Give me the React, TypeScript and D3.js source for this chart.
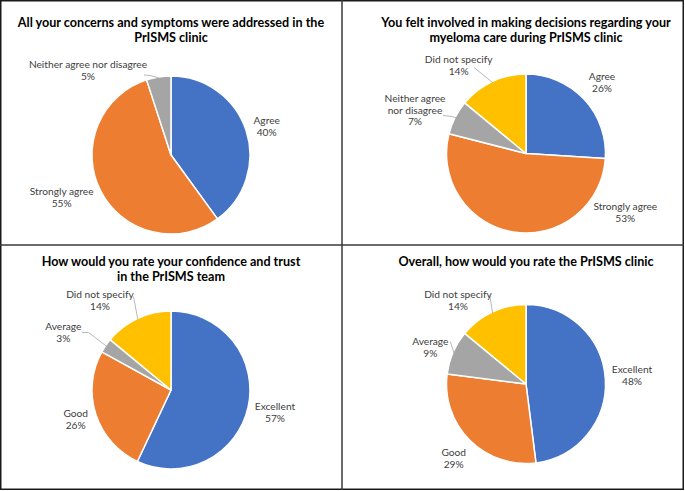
import React from "react";
import * as d3 from "d3";

// ---- Data ----
const titles1 = ["All your concerns and symptoms were addressed in the", "PrISMS clinic"];
const cats1 = ["Agree", "Strongly agree", "Neither agree nor disagree"];
const vals1 = [40, 55, 5];

const titles2 = ["You felt involved in making decisions regarding your", "myeloma care during PrISMS clinic"];
const cats2 = ["Agree", "Strongly agree", "Neither agree nor disagree", "Did not specify"];
const vals2 = [26, 53, 7, 14];

const titles3 = ["How would you rate your confidence and trust", "in the PrISMS team"];
const cats3 = ["Excellent", "Good", "Average", "Did not specify"];
const vals3 = [57, 26, 3, 14];

const titles4 = ["Overall, how would you rate the PrISMS clinic"];
const cats4 = ["Excellent", "Good", "Average", "Did not specify"];
const vals4 = [48, 29, 9, 14];

const colors = ["#4472C4", "#ED7D31", "#A5A5A5", "#FFC000"];

// ---- Layout (positions/styles) ----
type LabelLayout = { x: number; y: number; leader?: [number, number][] };
type PanelLayout = {
  titleY: number; titleX: number; cx: number; cy: number; r: number;
  labels: LabelLayout[]; splitLabel?: Record<number, string[]>;
};

const panels: { titles: string[]; cats: string[]; vals: number[]; layout: PanelLayout }[] = [
  {
    titles: titles1, cats: cats1, vals: vals1,
    layout: {
      titleX: 171, titleY: 26.7, cx: 171, cy: 155, r: 79,
      labels: [
        { x: 266.7, y: 124 },
        { x: 61.7, y: 195 },
        { x: 88, y: 68, leader: [[144, 75], [150, 75.5]] },
      ],
    },
  },
  {
    titles: titles2, cats: cats2, vals: vals2,
    layout: {
      titleX: 526, titleY: 26.7, cx: 526, cy: 153.5, r: 79.5,
      labels: [
        { x: 602, y: 80 },
        { x: 625.3, y: 210 },
        { x: 415, y: 101.7, leader: [[443, 115.5], [452, 116.5]] },
        { x: 458.7, y: 63.3, leader: [[474, 67.5]] },
      ],
      splitLabel: { 2: ["Neither agree", "nor disagree"] },
    },
  },
  {
    titles: titles3, cats: cats3, vals: vals3,
    layout: {
      titleX: 171, titleY: 265.7, cx: 171, cy: 390, r: 79,
      labels: [
        { x: 275, y: 410 },
        { x: 75.7, y: 416.7 },
        { x: 63.3, y: 330, leader: [[82, 332.5], [88.5, 332.5]] },
        { x: 100, y: 298.3, leader: [[133.5, 296.5]] },
      ],
    },
  },
  {
    titles: titles4, cats: cats4, vals: vals4,
    layout: {
      titleX: 526, titleY: 265.7, cx: 526, cy: 384, r: 79.5,
      labels: [
        { x: 632, y: 373.3 },
        { x: 453.7, y: 455.7 },
        { x: 430.3, y: 345, leader: [[450.3, 341.5]] },
        { x: 458, y: 298.3, leader: [[489.7, 295]] },
      ],
    },
  },
];

const W = 685;
const H = 491;
const titleFont = "Lato, 'Open Sans', sans-serif";
const labelFont = "Lato, 'Open Sans', sans-serif";

function Panel({ titles, cats, vals, layout }: { titles: string[]; cats: string[]; vals: number[]; layout: PanelLayout }) {
  const pie = d3.pie<number>().sort(null).startAngle(0).endAngle(2 * Math.PI);
  const arcs = pie(vals);
  const arc = d3.arc<d3.PieArcDatum<number>>().innerRadius(0).outerRadius(layout.r);
  const edge = d3.arc<d3.PieArcDatum<number>>().innerRadius(layout.r - 1).outerRadius(layout.r - 1);
  const total = d3.sum(vals);
  const lineH = 11.8;
  return (
    <g>
      {titles.map((t, i) => (
        <text key={i} x={layout.titleX} y={layout.titleY + i * 15} textAnchor="middle"
          fontFamily={titleFont} fontWeight="bold" fontSize={12.6} fill="#000">{t}</text>
      ))}
      <g transform={`translate(${layout.cx},${layout.cy})`}>
        {arcs.map((a, i) => (
          <path key={i} d={arc(a) || ""} fill={colors[i]} stroke="#fff" strokeWidth={1.5} strokeLinejoin="round" />
        ))}
      </g>
      {arcs.map((a, i) => {
        const lab = layout.labels[i];
        if (!lab.leader) return null;
        const [ex, ey] = edge.centroid(a);
        const pts = [...lab.leader, [layout.cx + ex, layout.cy + ey]];
        return (
          <polyline key={"l" + i} points={pts.map((p) => p.join(",")).join(" ")}
            fill="none" stroke="#A6A6A6" strokeWidth={0.8} />
        );
      })}
      {arcs.map((a, i) => {
        const lab = layout.labels[i];
        const nameLines = layout.splitLabel?.[i] ?? [cats[i]];
        const pct = `${Math.round((vals[i] / total) * 100)}%`;
        const lines = [...nameLines, pct];
        return (
          <text key={"t" + i} textAnchor="middle" fontFamily={labelFont} fontSize={10.2} fill="#404040">
            {lines.map((s, j) => (
              <tspan key={j} x={lab.x} y={lab.y + j * lineH}>{s}</tspan>
            ))}
          </text>
        );
      })}
    </g>
  );
}

export default function App() {
  return (
    <svg width={W} height={H} style={{ position: "absolute", left: 0, top: 0, background: "#fff" }}>
      <rect x={0} y={0} width={W} height={H} fill="#fff" />
      <rect x={0.75} y={0.75} width={682.5} height={488.5} fill="none" stroke="#1a1a1a" strokeWidth={1.5} />
      <line x1={342} x2={342} y1={0} y2={490} stroke="#3a3a3a" strokeWidth={1.5} />
      <line x1={0} x2={684} y1={245} y2={245} stroke="#3a3a3a" strokeWidth={1.5} />
      {panels.map((p, i) => (
        <Panel key={i} {...p} />
      ))}
    </svg>
  );
}
